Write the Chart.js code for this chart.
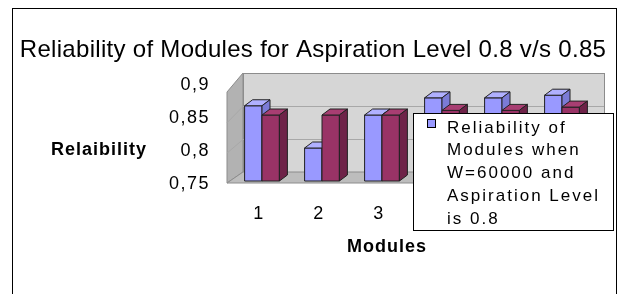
<!DOCTYPE html>
<html>
<head>
<meta charset="utf-8">
<script src="https://cdn.jsdelivr.net/npm/chart.js@4.4.0/dist/chart.umd.min.js"></script>
<style>
  html, body { margin: 0; padding: 0; background: #fff; overflow: hidden; }
  #wrap { position: relative; width: 622px; height: 294px; }
  #frame { position: absolute; left: 12px; top: 8px; width: 605px; height: 320px;
           box-sizing: border-box; border: 1px solid #000; pointer-events: none; }
</style>
</head>
<body>
<div id="wrap">
  <canvas id="reliabilityChart" width="622" height="294"></canvas>
  <div id="frame"></div>
</div>
<script>
// data
const modules = ['1', '2', '3', '4', '5', '6'];
const level08 = [0.864, 0.80, 0.85, 0.876, 0.876, 0.880];
const level085 = [0.85, 0.85, 0.85, 0.857, 0.857, 0.862];
const yTicks = [0.75, 0.8, 0.85, 0.9];
const chartTitle = 'Reliability of Modules for Aspiration Level 0.8 v/s 0.85';
const seriesNames = [
    'Reliability of Modules when W=60000 and Aspiration Level is 0.8',
    'Reliability of Modules when W=60000 and Aspiration Level is 0.85'
];

const FONT = '"Liberation Sans", Arial, sans-serif';
const BLUE = { front: '#9999ff', top: '#b0b0ff', side: '#7b7bd6' };
const RED = { front: '#993366', top: '#a83e72', side: '#6e2248' };
const DEPTH_X = 8, DEPTH_Y = 6;

// grey walls and floor behind the bars
const wallsPlugin = {
    id: 'walls',
    beforeDatasetsDraw(chart) {
        const ctx = chart.ctx;
        const a = chart.chartArea;
        const y = chart.scales.y;
        const frontL = a.left - 5, frontB = a.bottom + 2, frontT = a.top + 10;
        const backL = a.left + 11, backR = a.right + 12, backT = a.top - 9, backB = a.bottom - 9;
        ctx.save();
        ctx.lineWidth = 1;
        ctx.strokeStyle = '#8c8c8c';

        // back wall
        ctx.fillStyle = '#d6d6d6';
        ctx.fillRect(backL, backT, backR - backL, backB - backT);
        ctx.strokeRect(backL + 0.5, backT + 0.5, backR - backL, backB - backT);

        // side wall
        ctx.fillStyle = '#b2b2b2';
        ctx.beginPath();
        ctx.moveTo(frontL, frontT);
        ctx.lineTo(backL, backT);
        ctx.lineTo(backL, backB);
        ctx.lineTo(frontL, frontB);
        ctx.closePath();
        ctx.fill();
        ctx.stroke();

        // floor
        ctx.fillStyle = '#bdbdbd';
        ctx.beginPath();
        ctx.moveTo(frontL, frontB);
        ctx.lineTo(backL, backB);
        ctx.lineTo(backR, backB);
        ctx.lineTo(backR - (backL - frontL), frontB);
        ctx.closePath();
        ctx.fill();
        ctx.stroke();

        // grid lines on back and side wall
        ctx.strokeStyle = '#a8a8a8';
        yTicks.slice(1, -1).forEach(v => {
            const yb = Math.round(y.getPixelForValue(v) - 9) + 0.5;
            const yf = frontT + (yb - backT) * (frontB - frontT) / (backB - backT);
            ctx.beginPath();
            ctx.moveTo(frontL, yf);
            ctx.lineTo(backL, yb);
            ctx.lineTo(backR, yb);
            ctx.stroke();
        });
        ctx.restore();
    }
};

// redraw each bar as a little box: front, top and side faces
const boxesPlugin = {
    id: 'boxes',
    afterDatasetsDraw(chart) {
        const ctx = chart.ctx;
        const palettes = [BLUE, RED];
        ctx.save();
        ctx.lineWidth = 1;
        ctx.strokeStyle = '#222';
        ctx.lineJoin = 'round';
        modules.forEach((m, i) => {
            chart.data.datasets.forEach((ds, d) => {
                const el = chart.getDatasetMeta(d).data[i];
                const p = el.getProps(['x', 'y', 'base', 'width'], true);
                const l = p.x - p.width / 2, r = p.x + p.width / 2;
                const c = palettes[d];

                ctx.fillStyle = c.front;
                ctx.fillRect(l, p.y, r - l, p.base - p.y);
                ctx.strokeRect(l, p.y, r - l, p.base - p.y);

                ctx.fillStyle = c.top;
                ctx.beginPath();
                ctx.moveTo(l, p.y);
                ctx.lineTo(l + DEPTH_X, p.y - DEPTH_Y);
                ctx.lineTo(r + DEPTH_X, p.y - DEPTH_Y);
                ctx.lineTo(r, p.y);
                ctx.closePath();
                ctx.fill();
                ctx.stroke();

                ctx.fillStyle = c.side;
                ctx.beginPath();
                ctx.moveTo(r, p.y);
                ctx.lineTo(r + DEPTH_X, p.y - DEPTH_Y);
                ctx.lineTo(r + DEPTH_X, p.base - DEPTH_Y);
                ctx.lineTo(r, p.base);
                ctx.closePath();
                ctx.fill();
                ctx.stroke();
            });
        });
        ctx.restore();
    }
};

function wrapText(ctx, text, maxWidth) {
    const words = text.split(' ');
    const lines = [];
    let line = '';
    words.forEach(w => {
        const test = line ? line + ' ' + w : w;
        if (line && ctx.measureText(test).width > maxWidth) {
            lines.push(line);
            line = w;
        } else {
            line = test;
        }
    });
    if (line) lines.push(line);
    return lines;
}

// title, axis titles (horizontal y title) and the clipped legend box
const textPlugin = {
    id: 'texts',
    beforeDraw(chart) {
        chart.ctx.letterSpacing = '1.5px';
    },
    afterDraw(chart) {
        const ctx = chart.ctx;
        const a = chart.chartArea;
        ctx.save();
        ctx.fillStyle = '#000';
        ctx.textAlign = 'center';
        ctx.textBaseline = 'middle';

        ctx.font = '24px ' + FONT;
        ctx.letterSpacing = '0.3px';
        ctx.fillText(chartTitle, 313, 50);

        ctx.font = 'bold 18px ' + FONT;
        ctx.letterSpacing = '1px';
        ctx.fillText('Relaibility', a.left - 133, a.bottom - 31);
        ctx.fillText('Modules', a.left + 155, a.bottom + 66);

        // legend
        const lx = 413, ly = 113, lw = 200, lh = 117;
        ctx.fillStyle = '#fff';
        ctx.fillRect(lx, ly, lw, lh);
        ctx.strokeStyle = '#000';
        ctx.lineWidth = 1;
        ctx.strokeRect(lx + 0.5, ly + 0.5, lw, lh);

        ctx.fillStyle = BLUE.front;
        ctx.fillRect(427.5, 119.5, 8, 8);
        ctx.strokeRect(427.5, 119.5, 8, 8);

        ctx.font = '17px ' + FONT;
        ctx.letterSpacing = '2px';
        ctx.fillStyle = '#000';
        ctx.textAlign = 'left';
        const lines = wrapText(ctx, seriesNames[0], 165);
        lines.forEach((t, k) => ctx.fillText(t, 447, ly + 15 + k * 22.8));
        ctx.restore();
    }
};

const ctx = document.getElementById('reliabilityChart').getContext('2d');
new Chart(ctx, {
    type: 'bar',
    data: {
        labels: modules,
        datasets: [{
            label: seriesNames[0],
            data: level08,
            base: yTicks[0],
            backgroundColor: BLUE.front,
            borderColor: '#222',
            borderWidth: 1,
            categoryPercentage: 0.58,
            barPercentage: 1
        }, {
            label: seriesNames[1],
            data: level085,
            base: yTicks[0],
            backgroundColor: RED.front,
            borderColor: '#222',
            borderWidth: 1,
            categoryPercentage: 0.58,
            barPercentage: 1
        }]
    },
    options: {
        responsive: false,
        animation: false,
        layout: { padding: { left: 0, right: 30, top: 82, bottom: 0 } },
        plugins: {
            legend: { display: false },
            tooltip: { enabled: false },
            title: { display: false }
        },
        scales: {
            x: {
                grid: { display: false, drawTicks: false },
                border: { display: false },
                ticks: { color: '#000', font: { family: FONT, size: 18 }, padding: 22, labelOffset: -3 },
                afterFit(s) { s.height = 113; }
            },
            y: {
                min: yTicks[0],
                max: yTicks[yTicks.length - 1],
                afterBuildTicks(s) { s.ticks = yTicks.map(v => ({ value: v })); },
                grid: { display: false, drawTicks: false },
                border: { display: false },
                ticks: {
                    color: '#000',
                    font: { family: FONT, size: 18 },
                    padding: 22,
                    labelOffset: 3,
                    callback: v => String(v).replace('.', ',')
                },
                afterFit(s) { s.width = 232; }
            }
        }
    },
    plugins: [wallsPlugin, boxesPlugin, textPlugin]
});
</script>
</body>
</html>
